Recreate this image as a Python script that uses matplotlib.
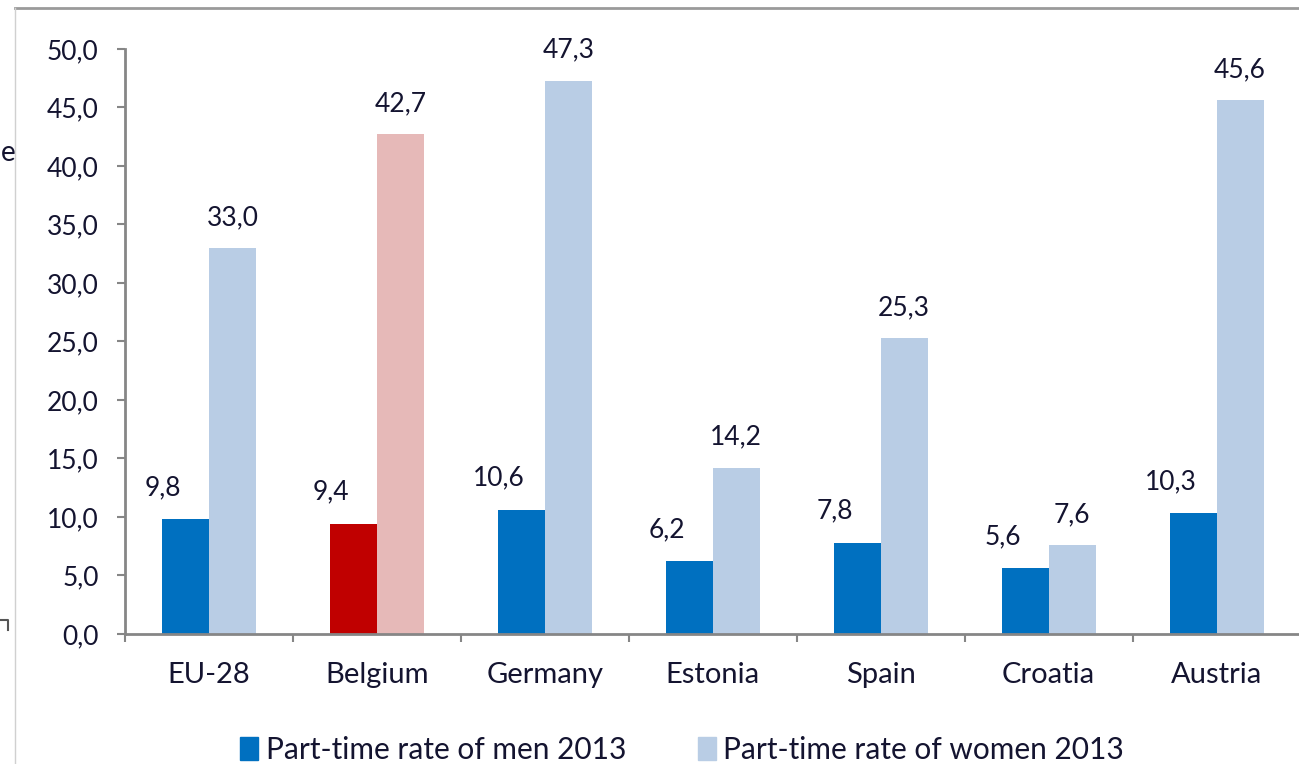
import numpy as np
import matplotlib.pyplot as plt
from matplotlib.lines import Line2D

countries = ["EU-28", "Belgium", "Germany", "Estonia", "Spain", "Croatia", "Austria"]
men = [9.8, 9.4, 10.6, 6.2, 7.8, 5.6, 10.3]
women = [33.0, 42.7, 47.3, 14.2, 25.3, 7.6, 45.6]
highlight = "Belgium"
legend_labels = ["Part-time rate of men 2013", "Part-time rate of women 2013"]

c_men, c_women = "#0070C0", "#B9CDE5"
h_men, h_women = "#C00000", "#E6B9B8"
txt = "#141430"

plt.rcParams['font.family'] = ['Lato', 'DejaVu Sans']

fig = plt.figure(figsize=(12.99, 7.64), dpi=100)
ax = fig.add_axes([0.0962, 0.1702, 0.905, 0.7657])

x = np.arange(len(countries))
w = 0.28
cm = [h_men if c == highlight else c_men for c in countries]
cw = [h_women if c == highlight else c_women for c in countries]
ax.bar(x - w / 2, men, w, color=cm)
ax.bar(x + w / 2, women, w, color=cw)

for xi, v in zip(x, men):
    ax.annotate(f"{v:.1f}".replace(".", ","), (xi - w / 2, v), xytext=(-16, 14),
                textcoords="offset points", ha="center", va="bottom",
                fontsize=19, color=txt)
for xi, v in zip(x, women):
    ax.annotate(f"{v:.1f}".replace(".", ","), (xi + w / 2, v), xytext=(0, 13),
                textcoords="offset points", ha="center", va="bottom",
                fontsize=19, color=txt)

ax.set_xlim(-0.5, len(countries) - 0.5)
ax.set_ylim(0, 50)
ax.set_yticks(np.arange(0, 51, 5))
ax.set_yticklabels([f"{t:.1f}".replace(".", ",") for t in np.arange(0, 51, 5)])
ax.set_xticks(x)
ax.set_xticklabels(countries)
ax.set_xticks(np.arange(-0.5, len(countries), 1), minor=True)
ax.tick_params(axis="x", which="major", length=0, pad=20, labelsize=21, labelcolor=txt)
ax.tick_params(axis="x", which="minor", length=6, width=1.5, color="#868686")
ax.tick_params(axis="y", length=6, width=1.5, color="#868686", labelsize=19,
               labelcolor=txt, pad=13)
for s in ["top", "right"]:
    ax.spines[s].set_visible(False)
for s in ["left", "bottom"]:
    ax.spines[s].set_color("#868686")
    ax.spines[s].set_linewidth(2)

handles = [plt.Rectangle((0, 0), 1, 1, color=c_men), plt.Rectangle((0, 0), 1, 1, color=c_women)]
fig.legend(handles, legend_labels, loc="center", bbox_to_anchor=(0.525, 0.018),
           ncol=2, frameon=False, fontsize=21.5, handlelength=0.6, handleheight=0.8,
           handletextpad=0.25, columnspacing=2.4, labelcolor=txt)

# border remnants of the cropped page
fig.add_artist(Line2D([0.0115, 1.0], [0.99, 0.99], color="#9a9a9a", lw=2))
fig.add_artist(Line2D([0.0115, 0.0115], [0.0, 0.99], color="#d0d0d0", lw=1))
fig.text(0.001, 0.80, "e", fontsize=20, color=txt, ha="left", va="center")
fig.add_artist(Line2D([0.0, 0.006, 0.006], [0.188, 0.188, 0.175], color="#555555", lw=1.5))

fig.savefig("out.png", dpi=100)
